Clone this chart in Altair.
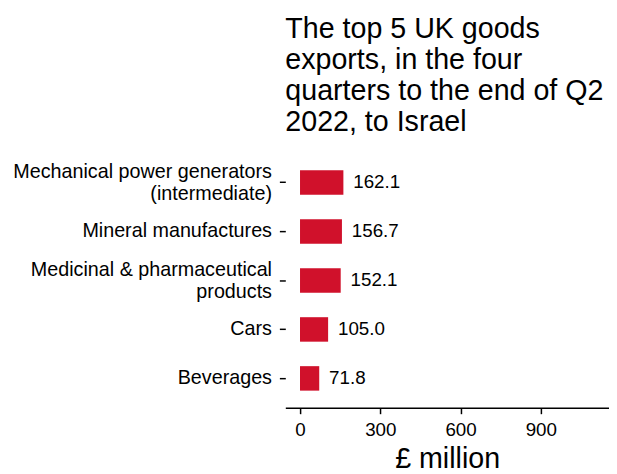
import altair as alt
import pandas as pd

categories = ["Mechanical power generators|(intermediate)", "Mineral manufactures",
              "Medicinal & pharmaceutical|products", "Cars", "Beverages"]
values = [162.1, 156.7, 152.1, 105.0, 71.8]
labels = ["162.1", "156.7", "152.1", "105.0", "71.8"]
x_ticks = [0, 300, 600, 900]
title_lines = ["The top 5 UK goods", "exports, in the four",
               "quarters to the end of Q2", "2022, to Israel"]

df = pd.DataFrame({"cat": categories, "value": values, "label": labels})

FONT = "Liberation Sans"

y = alt.Y("cat:N", sort=categories, title=None,
          scale=alt.Scale(paddingInner=0.5, paddingOuter=0.35),
          axis=alt.Axis(domain=False, ticks=True, tickSize=6, tickColor="black",
                        tickWidth=1.5,
                        labelColor="black", labelFont=FONT, labelFontSize=20,
                        labelPadding=8, labelLineHeight=23,
                        labelOffset={"condition": {"test": "indexof(datum.label, '|') >= 0",
                                                   "value": -11},
                                     "value": 0},
                        labelExpr="split(datum.label, '|')", labelLimit=400))

x = alt.X("value:Q", title="£ million",
          scale=alt.Scale(domain=[-55, 1155], nice=False, zero=False),
          axis=alt.Axis(values=x_ticks, grid=False, domainColor="black", domainWidth=1.5,
                        tickColor="black", tickWidth=1.5, tickSize=6,
                        labelColor="black", labelFont=FONT, labelFontSize=19,
                        labelPadding=7, titleFont=FONT, titleFontSize=29,
                        titleFontWeight="normal", titleColor="black", titlePadding=6))

bars = alt.Chart(df).mark_bar(color="#d0112b").encode(x=x, x2=alt.datum(0), y=y)
text = alt.Chart(df).mark_text(align="left", dx=10, font=FONT, fontSize=19,
                               color="black").encode(x="value:Q", y=alt.Y("cat:N", sort=categories), text="label:N")

chart = (bars + text).properties(
    width=328, height=258,
    autosize=alt.AutoSizeParams(type="none"),
    padding={"left": 281, "top": 144, "right": 0, "bottom": 64},
    title=alt.TitleParams(title_lines, anchor="start", frame="group", font=FONT,
                          fontSize=29, fontWeight="normal", color="black",
                          lineHeight=31.5, offset=16),
).configure_view(stroke=None)

chart.save("out.html", embed_options={"renderer": "svg", "actions": False})
